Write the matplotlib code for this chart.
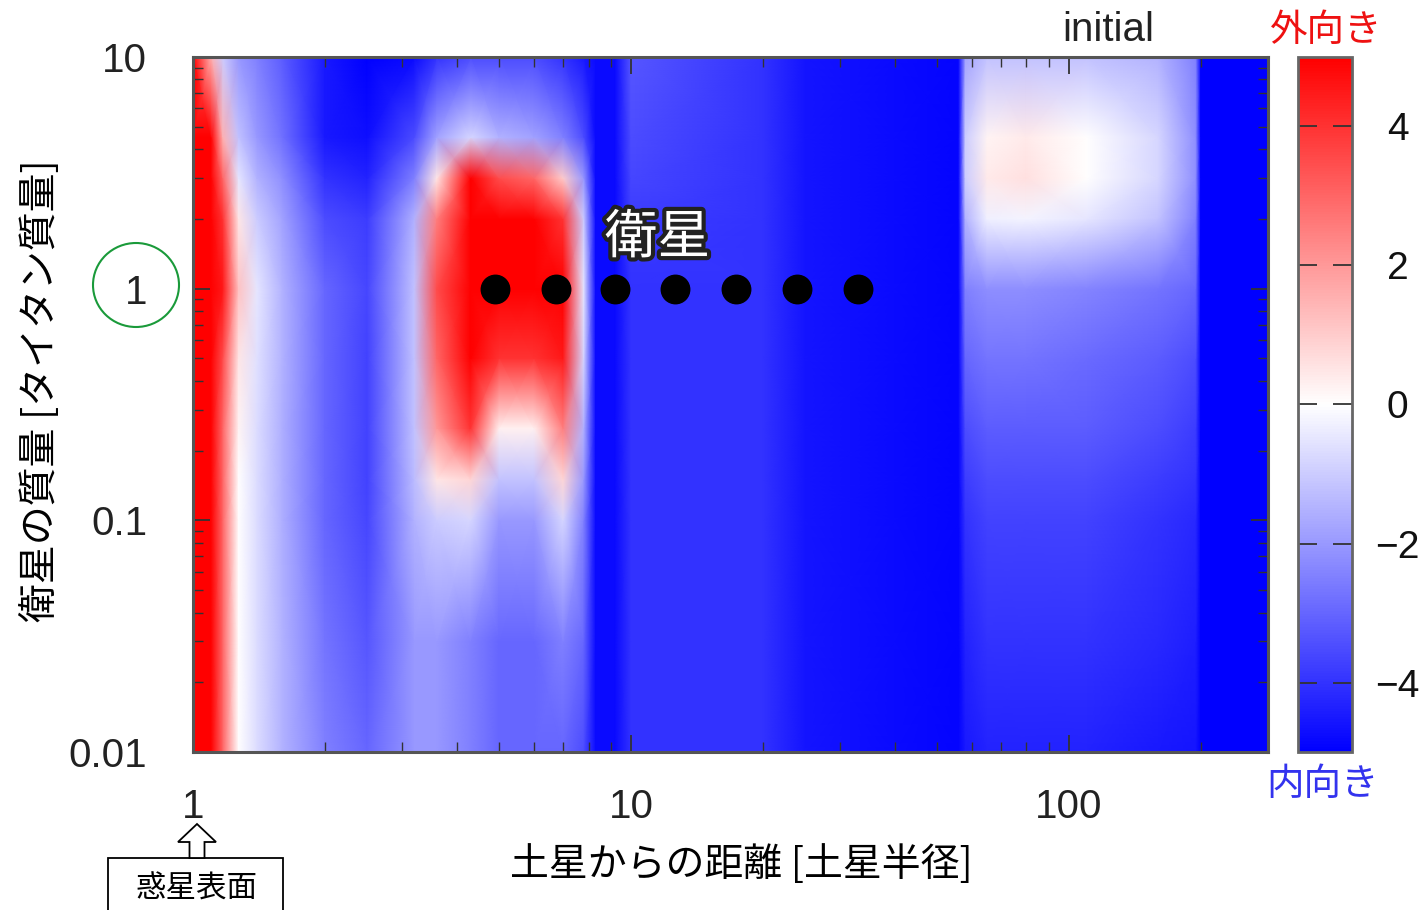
import numpy as np
import matplotlib
matplotlib.use("Agg")
import matplotlib.pyplot as plt
import matplotlib.patheffects as pe
from matplotlib.patches import Ellipse, FancyArrow, Rectangle

# distance from Saturn [Saturn radii] (grid columns)
distance = [1.0, 1.1, 1.17, 1.27, 1.4, 1.6, 2.0, 2.5, 3.2, 3.6, 4.3, 5.0, 6.0, 7.0,
            7.8, 8.3, 9.2, 10, 20, 25, 40, 56, 58, 65, 80, 110, 160, 195, 200, 290]
# satellite mass [Titan mass] (grid rows)
mass = [0.01, 0.03, 0.1, 0.15, 0.25, 0.5, 1, 2, 3, 4.5, 10]

# migration rate, one row per mass level (positive = outward)
rate_m0_01 = [6, 6, 3, 0.0, -0.7, -1.5, -2.5, -3.0, -2.0, -2.0, -2.5, -3.0, -3.0, -3.0,
              -3.5, -4.8, -4.8, -4.0, -4.0, -4.6, -4.8, -4.9, -4.5, -4.3, -4.3, -4.3, -4.5, -4.6, -5, -5]
rate_m0_03 = [6, 6, 3, 0.0, -0.7, -1.5, -2.7, -3.3, -2.0, -2.0, -2.5, -3.0, -3.0, -2.5,
              -3.0, -4.8, -4.8, -4.0, -4.0, -4.6, -4.8, -4.9, -4.3, -4.0, -4.0, -4.0, -4.2, -4.4, -5, -5]
rate_m0_1 = [6, 6, 3, 0.0, -0.7, -1.6, -3.0, -3.6, -1.5, -1.0, -0.8, -2.0, -2.0, -0.8,
             -2.5, -4.8, -4.8, -4.0, -4.0, -4.6, -4.8, -4.9, -4.0, -3.7, -3.7, -3.7, -4.0, -4.2, -5, -5]
rate_m0_15 = [6, 6, 3, 0.0, -0.7, -1.6, -3.0, -3.7, -1.3, 0.5, 0.8, -1.2, -1.2, 0.8,
              -2.0, -4.8, -4.8, -4.0, -4.0, -4.6, -4.8, -4.9, -3.8, -3.5, -3.5, -3.5, -3.8, -4.0, -5, -5]
rate_m0_25 = [6, 6, 3, 0.2, -0.7, -1.6, -3.0, -3.7, -1.2, 2.0, 4.0, 0.3, 0.3, 2.5,
              -1.5, -4.8, -4.8, -4.0, -4.0, -4.6, -4.8, -4.9, -3.5, -3.2, -3.2, -3.2, -3.5, -3.8, -5, -5]
rate_m0_5 = [6, 6, 3.5, 0.5, -0.6, -1.5, -3.0, -3.7, -1.2, 3.0, 6.0, 4.0, 4.0, 4.5,
             -0.8, -4.8, -4.8, -4.0, -4.0, -4.6, -4.8, -4.9, -3.0, -2.7, -2.7, -2.9, -3.2, -3.5, -5, -5]
rate_m1 = [6, 6, 4.5, 1.2, -0.5, -1.5, -3.0, -3.6, -1.2, 3.5, 6.0, 6.0, 6.0, 5.0,
           -0.5, -4.8, -4.8, -4.0, -4.0, -4.6, -4.8, -4.9, -2.5, -2.2, -2.2, -2.4, -2.7, -3.0, -5, -5]
rate_m2 = [6, 6, 4, 0.5, -1.0, -1.8, -3.5, -3.8, -1.5, 2.5, 6.0, 6.0, 6.0, 4.0,
           -1.0, -4.8, -4.8, -3.8, -4.0, -4.6, -4.8, -4.9, -1.5, -0.3, -0.2, -0.5, -1.2, -2.5, -5, -5]
rate_m3 = [6, 6, 3, -0.5, -1.5, -2.2, -4.0, -4.3, -2.5, 0.5, 5.0, 3.5, 3.0, 1.0,
           -2.0, -4.8, -4.8, -3.6, -4.0, -4.6, -4.8, -4.9, -1.0, 0.4, 0.6, 0.0, -0.8, -2.2, -5, -5]
rate_m4_5 = [6, 5, 1.5, -1.2, -2.0, -2.8, -4.5, -4.7, -3.5, -1.8, -0.8, -1.5, -1.8, -2.5,
             -3.5, -4.8, -4.8, -3.5, -4.0, -4.6, -4.8, -4.9, -1.0, 0.2, 0.4, 0.0, -0.8, -2.2, -5, -5]
rate_m10 = [6, 1.5, -1, -2.0, -2.5, -3.2, -4.5, -5.0, -4.8, -4.0, -3.5, -3.5, -3.5, -4.0,
            -4.5, -4.8, -4.8, -3.3, -4.0, -4.6, -4.8, -4.9, -1.8, -1.2, -1.2, -1.2, -1.5, -2.5, -5, -5]

# satellites placed at one Titan mass
sat_distance = [4.88, 6.73, 9.19, 12.6, 17.4, 23.9, 33.0]
sat_mass = [1, 1, 1, 1, 1, 1, 1]

cbar_ticks = [-4, -2, 0, 2, 4]

JP = ["Noto Sans CJK JP", "DejaVu Sans"]
NUM = ["Liberation Sans", "DejaVu Sans"]

rate = np.array([rate_m0_01, rate_m0_03, rate_m0_1, rate_m0_15, rate_m0_25, rate_m0_5,
                 rate_m1, rate_m2, rate_m3, rate_m4_5, rate_m10])
X, Y = np.meshgrid(distance, mass)

fig = plt.figure(figsize=(14.27, 9.10), dpi=100)
ax = fig.add_axes([0.1353, 0.1736, 0.7533, 0.7638])
cax = fig.add_axes([0.9096, 0.1736, 0.0378, 0.7638])

mesh = ax.pcolormesh(X, Y, rate, shading="gouraud", cmap="bwr", vmin=-5, vmax=5,
                     rasterized=True)
ax.scatter(sat_distance, sat_mass, s=420, color="black", zorder=5)

ax.set_xscale("log")
ax.set_yscale("log")
ax.set_xlim(1, 285)
ax.set_ylim(0.01, 10)

ax.set_xticks([1, 10, 100])
ax.set_xticklabels(["1", "10", "100"])
ax.set_yticks([0.01, 0.1, 1, 10])
ax.set_yticklabels(["0.01", "0.1", "1", "10"])
ax.tick_params(which="both", direction="in", top=True, right=True, color="#333333")
ax.tick_params(which="major", length=12, width=1.3)
ax.tick_params(which="minor", length=7, width=1.0)
ax.tick_params(axis="x", which="major", pad=26, labelsize=29)
ax.tick_params(axis="y", which="major", pad=33, labelsize=29)
for lab in ax.get_xticklabels() + ax.get_yticklabels():
    lab.set_family(NUM)
    lab.set_color("#222222")
for sp in ax.spines.values():
    sp.set_linewidth(2.2)
    sp.set_color("#555555")

ax.set_xlabel("土星からの距離 [土星半径]", family=JP, fontsize=28)
ax.xaxis.set_label_coords(0.51, -0.134)
ax.set_ylabel("衛星の質量 [タイタン質量]", family=JP, fontsize=28)
ax.yaxis.set_label_coords(-0.123, 0.52)

ax.text(0.432, 0.74, "衛星", transform=ax.transAxes, family=JP, fontsize=38,
        color="white", ha="center", va="center", zorder=6,
        path_effects=[pe.withStroke(linewidth=6, foreground="#222222")])

cb = fig.colorbar(mesh, cax=cax, ticks=cbar_ticks)
cb.ax.set_yticklabels(["\u22124", "\u22122", "0", "2", "4"])
cb.ax.tick_params(direction="in", left=True, right=True, length=14, width=1.3,
                  color="#333333", labelsize=28, pad=33)
for lab in cb.ax.get_yticklabels():
    lab.set_family(NUM)
    lab.set_color("#111111")
    lab.set_horizontalalignment("center")
cb.outline.set_edgecolor("#666666")
cb.outline.set_linewidth(2)

fig.text(1108 / 1427, 1 - 30 / 910, "initial", family=NUM, fontsize=29,
         ha="center", va="center", color="#222222")
fig.text(1326 / 1427, 1 - 30 / 910, "外向き", family=JP, fontsize=27,
         ha="center", va="center", color="#ee1111")
fig.text(1323 / 1427, 1 - 785 / 910, "内向き", family=JP, fontsize=27,
         ha="center", va="center", color="#3333ee")

# circle around the "1" label
fig.patches.append(Ellipse((136 / 1427, 1 - 285 / 910), 86 / 1427, 84 / 910,
                           transform=fig.transFigure, fill=False,
                           edgecolor="#1a9a3a", linewidth=1.5))

# planet surface marker
fig.patches.append(Rectangle((108 / 1427, 1 - 915 / 910), 175 / 1427, 57 / 910,
                             transform=fig.transFigure, facecolor="white",
                             edgecolor="black", linewidth=1.3))
fig.text(196 / 1427, 1 - 889 / 910, "惑星表面", family=JP, fontsize=22,
         ha="center", va="center", color="black")
fig.patches.append(FancyArrow(197 / 1427, 1 - 858 / 910, 0, 34 / 910,
                              width=15 / 1427, head_width=38 / 1427, head_length=18 / 910,
                              length_includes_head=True, transform=fig.transFigure,
                              facecolor="white", edgecolor="black", linewidth=1.3))

fig.savefig("out.png", dpi=100)
